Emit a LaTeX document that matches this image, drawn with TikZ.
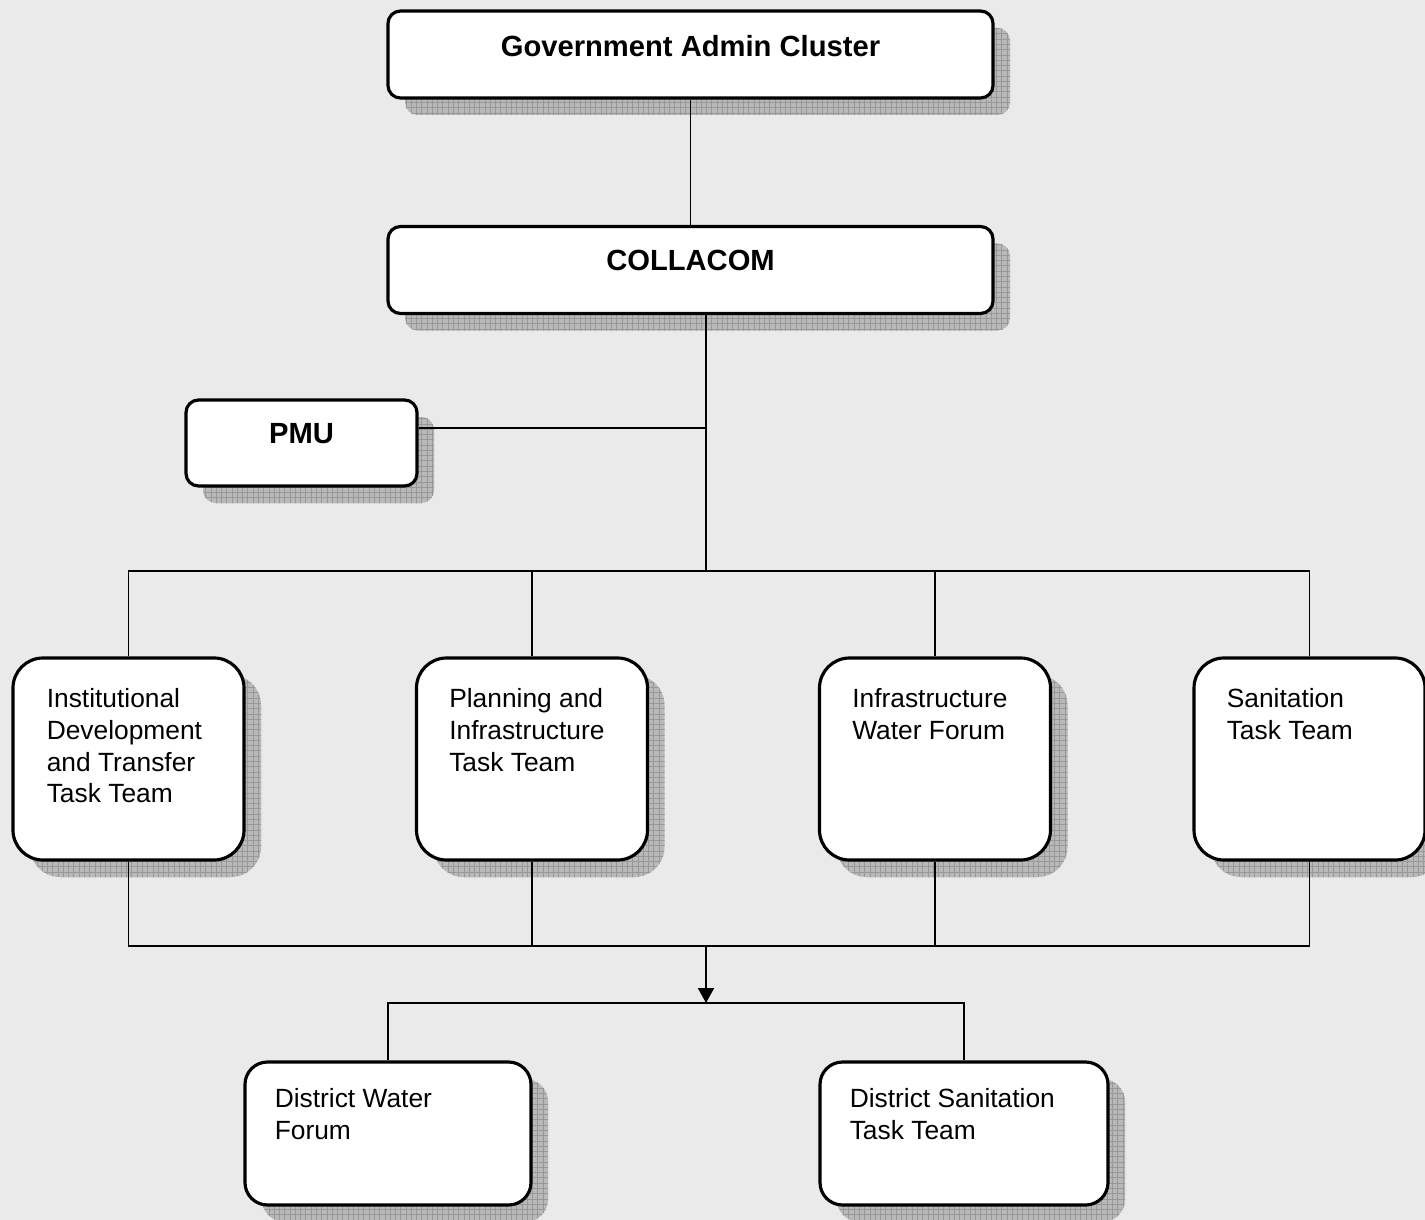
\documentclass[tikz,border=0pt]{standalone}
\usepackage{fontspec}
\setmainfont{Liberation Sans}
\usetikzlibrary{shadows,patterns,arrows.meta}
\definecolor{pagegray}{HTML}{EAEAEA}
\definecolor{shadegray}{HTML}{B9B9B9}
\definecolor{gridgray}{HTML}{989898}
\tikzset{
  boxshadow/.style={general shadow={shadow xshift=.34cm,shadow yshift=-.34cm,fill=shadegray},
    general shadow={shadow xshift=.34cm,shadow yshift=-.34cm,pattern=grid,pattern color=gridgray}},
  unit/.style={draw,line width=1.8pt,fill=white,boxshadow,inner sep=0pt},
  topunit/.style={unit,rounded corners=.25cm,minimum width=12.1cm,minimum height=1.74cm},
  teamunit/.style={unit,rounded corners=.6cm,minimum width=4.62cm,minimum height=4.04cm},
  districtunit/.style={unit,rounded corners=.45cm,minimum height=2.86cm},
  unittext/.style={font=\fontsize{15}{18}\selectfont,inner sep=0pt,align=left,anchor=north west},
  headtext/.style={font=\fontsize{16.6}{19}\selectfont\bfseries,inner sep=0pt},
  link/.style={line width=1.1pt}
}
\begin{document}
\begin{tikzpicture}
        \fill[pagegray] (0,0) rectangle (28.5,-24.4);
        \useasboundingbox (0,0) rectangle (28.5,-24.4);
        % top of the structure
        \node[topunit] (gov) at (13.81,-1.09) {};
        \node[headtext] (govtext) at ([yshift=-.74cm]gov.north) {Government Admin Cluster};
        \node[topunit] (col) at (13.81,-5.4) {};
        \node[headtext] (coltext) at ([yshift=-.71cm]col.north) {COLLACOM};
        \node[unit,rounded corners=.25cm,minimum width=4.62cm,minimum height=1.72cm] (pmu) at (6.03,-8.86) {};
        \node[headtext] (pmutext) at ([yshift=-.71cm]pmu.north) {PMU};
        % task teams
        \node[teamunit] (t1) at (2.57,-15.18) {};
        \node[unittext] (t1text) at ([xshift=.7cm,yshift=-.64cm]t1.north west) {Institutional\\Development\\and Transfer\\Task Team};
        \node[teamunit] (t2) at (10.64,-15.18) {};
        \node[unittext] (t2text) at ([xshift=.68cm,yshift=-.64cm]t2.north west) {Planning and\\Infrastructure\\Task Team};
        \node[teamunit] (t3) at (18.7,-15.18) {};
        \node[unittext] (t3text) at ([xshift=.68cm,yshift=-.64cm]t3.north west) {Infrastructure\\Water Forum};
        \node[teamunit] (t4) at (26.19,-15.18) {};
        \node[unittext] (t4text) at ([xshift=.68cm,yshift=-.64cm]t4.north west) {Sanitation\\Task Team};
        % district level
        \node[districtunit,minimum width=5.72cm] (dw) at (7.76,-22.67) {};
        \node[unittext] (dwtext) at ([xshift=.62cm,yshift=-.56cm]dw.north west) {District Water\\Forum};
        \node[districtunit,minimum width=5.76cm] (ds) at (19.28,-22.67) {};
        \node[unittext] (dstext) at ([xshift=.62cm,yshift=-.56cm]ds.north west) {District Sanitation\\Task Team};
        % junctions
        \coordinate (hub) at (14.12,-11.42);
        \coordinate (merge) at (14.12,-18.92);
        \coordinate (split) at (14.12,-20.06);
        \draw[link] (gov.south) -- (col.north);
        \draw[link] (col.south -| hub) -- (hub);
        \draw[link] ([yshift=.3cm]pmu.east) -- ([yshift=.3cm]pmu.east -| hub);
        \draw[link] (t1.north) |- (t4.north |- hub) -- (t4.north);
        \draw[link] (t2.north) -- (t2.north |- hub);
        \draw[link] (t3.north) -- (t3.north |- hub);
        \draw[link] (t1.south) |- (t4.south |- merge) -- (t4.south);
        \draw[link] (t2.south) -- (t2.south |- merge);
        \draw[link] (t3.south) -- (t3.south |- merge);
        \draw[link,-{Triangle[width=.32cm,length=.3cm]}] (merge) -- (split);
        \draw[link] (dw.north) |- (split) -| (ds.north);
\end{tikzpicture}
\end{document}
